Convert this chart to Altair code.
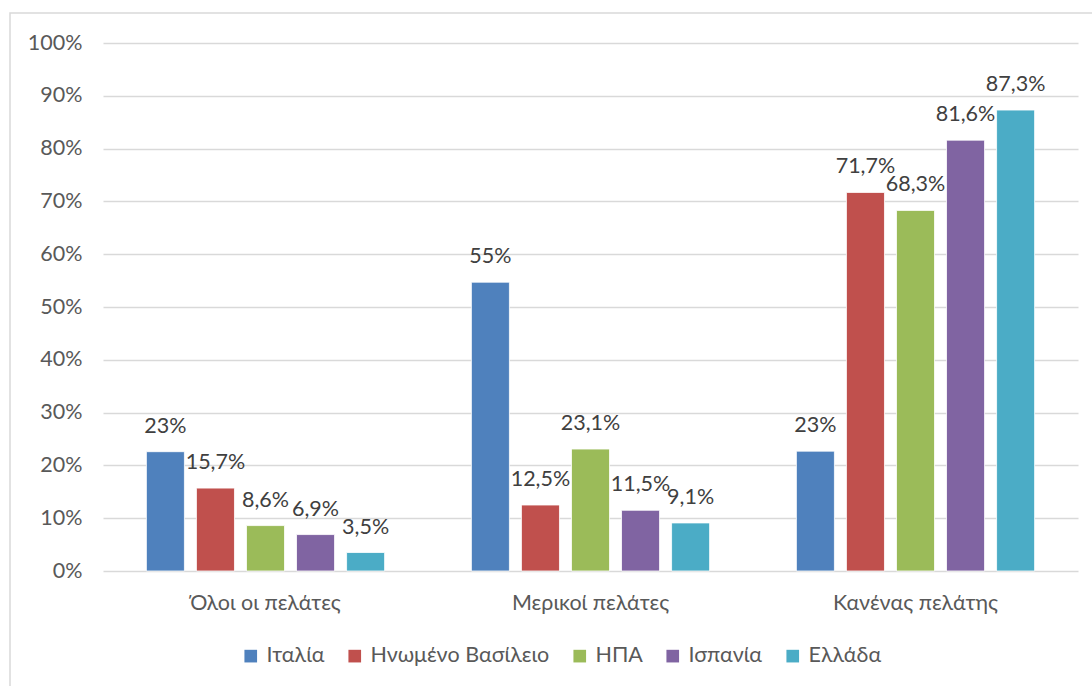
import altair as alt
import pandas as pd

categories = ["Όλοι οι πελάτες", "Μερικοί πελάτες", "Κανένας πελάτης"]
series = ["Ιταλία", "Ηνωμένο Βασίλειο", "ΗΠΑ", "Ισπανία", "Ελλάδα"]
colors = ["#4F81BD", "#C0504D", "#9BBB59", "#8064A2", "#4BACC6"]
values = {
    "Ιταλία": [22.6, 54.7, 22.7],
    "Ηνωμένο Βασίλειο": [15.7, 12.5, 71.7],
    "ΗΠΑ": [8.6, 23.1, 68.3],
    "Ισπανία": [6.9, 11.5, 81.6],
    "Ελλάδα": [3.5, 9.1, 87.3],
}
labels = {
    "Ιταλία": ["23%", "55%", "23%"],
    "Ηνωμένο Βασίλειο": ["15,7%", "12,5%", "71,7%"],
    "ΗΠΑ": ["8,6%", "23,1%", "68,3%"],
    "Ισπανία": ["6,9%", "11,5%", "81,6%"],
    "Ελλάδα": ["3,5%", "9,1%", "87,3%"],
}

rows = []
for s in series:
    for i, c in enumerate(categories):
        rows.append({"cat": c, "series": s, "value": values[s][i] / 100, "label": labels[s][i]})
df = pd.DataFrame(rows)

FONT = "Lato"
FS = 21.5
W, H = 975, 528

x = alt.X("cat:N", sort=categories, title=None,
          scale=alt.Scale(paddingInner=0.23, paddingOuter=0.115),
          axis=alt.Axis(labelAngle=0, labelPadding=21, ticks=False, domain=False,
                        labelFontSize=FS, labelColor="#595959", labelFont=FONT))
xo = alt.XOffset("series:N", sort=series, scale=alt.Scale(paddingInner=0.24, paddingOuter=0.12))
y = alt.Y("value:Q", title=None,
          scale=alt.Scale(domain=[0, 1], nice=False),
          axis=alt.Axis(format=".0%", values=[i / 10 for i in range(11)],
                        labelOverlap=False,
                        labelPadding=21, ticks=False, domain=False,
                        labelFontSize=FS, labelColor="#595959", labelFont=FONT,
                        grid=True, gridColor="#D9D9D9", gridWidth=1.5))
color = alt.Color("series:N", sort=series, title=None,
                  scale=alt.Scale(domain=series, range=colors),
                  legend=alt.Legend(orient="none", legendX=137, legendY=602, direction="horizontal",
                                    symbolType="square", symbolSize=160, symbolStrokeWidth=0,
                                    labelFontSize=FS, labelColor="#595959", labelFont=FONT,
                                    labelLimit=400, columnPadding=19, labelOffset=5))

base = alt.Chart(df)
bars = base.mark_bar(stroke="white", strokeWidth=0.8).encode(x=x, xOffset=xo, y=y, color=color)
text = base.mark_text(dy=-25, baseline="middle", fontSize=FS, font=FONT, color="#404040").encode(
    x=alt.X("cat:N", sort=categories), xOffset=alt.XOffset("series:N", sort=series),
    y="value:Q", text="label:N")
frame = alt.Chart(pd.DataFrame({"a": [0]})).mark_rect(
    fill=None, stroke="#D9D9D9", strokeWidth=1.5).encode(
    x=alt.value(-93), x2=alt.value(1092 - 103 + 10), y=alt.value(-30), y2=alt.value(700))

chart = alt.layer(frame, bars, text).properties(
    width=W, height=H,
    padding={"left": 103, "top": 43, "right": 14, "bottom": 115},
    autosize=alt.AutoSizeParams(type="none"),
    background="white",
).configure_view(stroke=None)

chart.save("out.html", embed_options={"renderer": "svg", "actions": False})
